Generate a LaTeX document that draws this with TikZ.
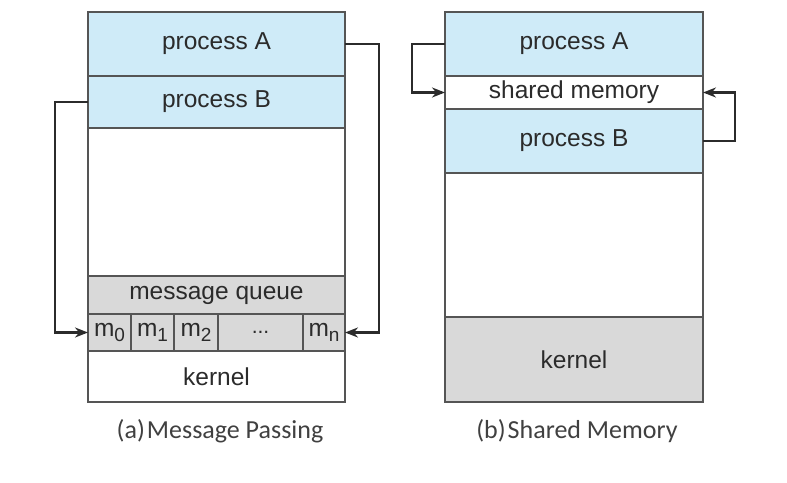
\documentclass[tikz,border=0pt]{standalone}
\usepackage{fontspec}
\setmainfont{Liberation Sans}
\newfontfamily\capfont{Carlito}
\usetikzlibrary{arrows.meta}
\definecolor{procblue}{HTML}{CFEBF8}
\definecolor{kergray}{HTML}{D9D9D9}
\definecolor{edge}{HTML}{555555}
\definecolor{ink}{HTML}{2B2B2B}
\newcommand{\msg}[1]{m\raisebox{-0.35ex}{\fontsize{19}{19}\selectfont #1}}
\begin{document}
\begin{tikzpicture}[x=1pt,y=-1pt,
  cell/.style={draw=edge, line width=1.4pt, rectangle, inner sep=0pt, outer sep=0pt,
    text=ink, font=\fontsize{24.5}{26}\selectfont},
  proc/.style={cell, fill=procblue},
  gray/.style={cell, fill=kergray},
  plain/.style={cell, fill=white},
  link/.style={draw=ink, line width=2.4pt, -{Stealth[length=13pt,width=10pt]}},
  caption/.style={text=ink!90, font=\capfont\fontsize{26}{28}\selectfont}]
\useasboundingbox (0,0) rectangle (787,482);

% (a) message passing
\node[proc,  minimum width=257pt, minimum height=64pt]  (pA1) at (216.5,44)  {process A};
\node[proc,  minimum width=257pt, minimum height=52pt]  (pB1) at (216.5,102) {process B};
\node[plain, minimum width=257pt, minimum height=148pt] (free1) at (216.5,202) {};
\node[gray,  minimum width=257pt, minimum height=38pt]  (mq) at (216.5,295) {message queue};
\node[gray,  minimum width=43pt, minimum height=37pt] (m0) at (109.5,332.5) {\msg{0}};
\node[gray,  minimum width=43pt, minimum height=37pt] (m1) at (152.5,332.5) {\msg{1}};
\node[gray,  minimum width=44pt, minimum height=37pt] (m2) at (196,332.5)   {\msg{2}};
\node[gray,  minimum width=85pt, minimum height=37pt] (mdots) at (260.5,332.5) {\fontsize{21}{21}\selectfont ...};
\node[gray,  minimum width=42pt, minimum height=37pt] (mn) at (324,332.5)   {\msg{n}};
\node[plain, minimum width=257pt, minimum height=51pt] (ker1) at (216.5,376.5) {kernel};
\node[caption] (capA) at (220,431) {(a)\hspace{2pt}Message Passing};

\draw[link] (pA1.east) -- ++(34,0) |- (mn.east);
\draw[link] (pB1.west) -- ++(-33,0) |- (m0.west);

% (b) shared memory
\node[proc,  minimum width=258pt, minimum height=64pt]  (pA2) at (574,44)    {process A};
\node[plain, minimum width=258pt, minimum height=33pt]  (shm) at (574,92.5)  {shared memory};
\node[proc,  minimum width=258pt, minimum height=64pt]  (pB2) at (574,141)   {process B};
\node[plain, minimum width=258pt, minimum height=144pt] (free2) at (574,245) {};
\node[gray,  minimum width=258pt, minimum height=85pt]  (ker2) at (574,359.5) {kernel};
\node[caption] (capB) at (577,431) {(b)\hspace{2pt}Shared Memory};

\draw[link] (pA2.west) -- ++(-33,0) |- (shm.west);
\draw[link] (pB2.east) -- ++(32,0) |- (shm.east);
\end{tikzpicture}
\end{document}
